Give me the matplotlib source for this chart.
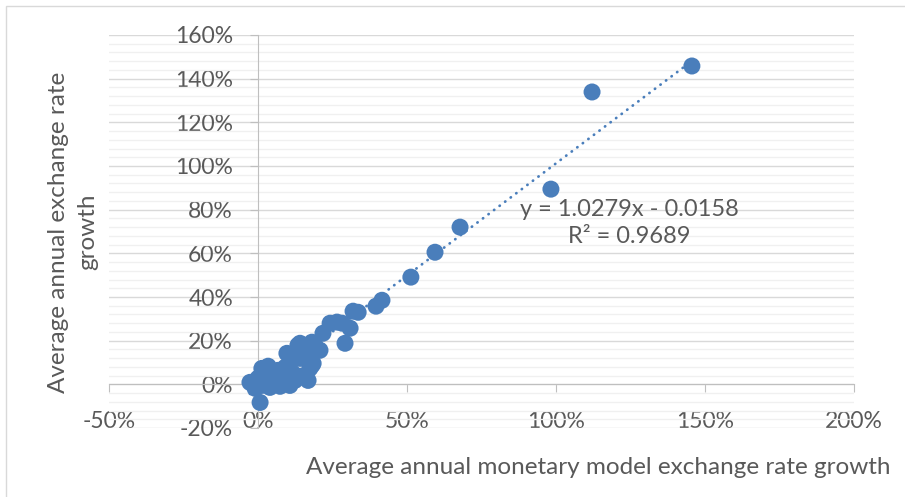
import numpy as np
import matplotlib
matplotlib.use("Agg")
from matplotlib import pyplot as plt
from matplotlib.patches import Rectangle
from matplotlib.ticker import MultipleLocator, PercentFormatter

# Average annual monetary model exchange rate growth (x) vs actual growth (y)
x_model = [1.456, 1.121, 0.983, 0.678, 0.594, 0.513, 0.416, 0.396, 0.336, 0.319,
           0.242, 0.282, 0.265, 0.218, 0.309, 0.292, 0.141, 0.181, 0.208, 0.097,
           0.185, 0.141, 0.174, 0.168, 0.107, -0.027, 0.007, 0.134, -0.010, 0.013,
           0.034, 0.023, 0.047, 0.067, 0.057, 0.081, 0.091, 0.107, 0.114, 0.040,
           0.074, 0.124, 0.141, 0.000, 0.013, 0.034, 0.121, 0.158, 0.191, 0.181]
y_actual = [1.458, 1.339, 0.894, 0.720, 0.605, 0.491, 0.385, 0.358, 0.330, 0.335,
            0.280, 0.280, 0.285, 0.234, 0.257, 0.188, 0.188, 0.193, 0.156, 0.142,
            0.096, 0.119, 0.073, 0.018, -0.005, 0.009, -0.083, 0.179, -0.018, -0.005,
            0.018, 0.055, 0.041, 0.064, 0.009, 0.032, 0.078, 0.101, 0.055, -0.014,
            -0.009, 0.018, 0.037, 0.028, 0.073, 0.083, 0.133, 0.147, 0.179, 0.087]

x_ticks = [-0.5, 0.0, 0.5, 1.0, 1.5, 2.0]
y_ticks = [-0.2, 0.0, 0.2, 0.4, 0.6, 0.8, 1.0, 1.2, 1.4, 1.6]

# trendline from the chart label
slope = 1.0279
intercept = -0.0158
r2 = 0.9689

blue = "#4a7ebb"
txt = "#595959"
plt.rcParams['font.family'] = ['Lato', 'DejaVu Sans']
plt.rcParams['axes.unicode_minus'] = False

fig = plt.figure(figsize=(9.05, 4.97), dpi=100)
ax = fig.add_axes([109/905, 69/497, 745/905, 393/497])
ax.set_xlim(-0.5, 2.0)
ax.set_ylim(-0.2, 1.6)

# gridlines
ax.set_yticks(y_ticks)
ax.yaxis.set_minor_locator(MultipleLocator(0.04))
ax.set_xticks(x_ticks)
ax.grid(True, axis='y', which='major', color='#d9d9d9', lw=1)
ax.grid(True, axis='y', which='minor', color='#f0f0f0', lw=1)
ax.set_axisbelow(True)

# axes crossing at zero
for s in ['top', 'right']:
    ax.spines[s].set_visible(False)
ax.spines['left'].set_position(('data', 0))
ax.spines['bottom'].set_position(('data', 0))
ax.spines['left'].set_color('#bfbfbf')
ax.spines['bottom'].set_color('#bfbfbf')
ax.yaxis.set_major_formatter(PercentFormatter(1.0, decimals=0))
ax.tick_params(axis='y', which='major', direction='out', length=6, color='#bfbfbf',
               labelsize=16.5, labelcolor=txt, pad=12)
ax.tick_params(axis='y', which='minor', length=0)
ax.tick_params(axis='x', direction='out', length=6, color='#bfbfbf', labelbottom=False)

# x labels sit low, near the bottom of the plot
sec = ax.secondary_xaxis(0.05)
sec.set_xticks(x_ticks)
sec.xaxis.set_major_formatter(PercentFormatter(1.0, decimals=0))
sec.spines['bottom'].set_visible(False)
sec.tick_params(length=0, labelsize=16.5, labelcolor=txt, pad=2)

ax.scatter(x_model, y_actual, s=150, color=blue, edgecolors='none', zorder=3)

xt = np.linspace(min(x_model), max(x_model), 2)
ax.plot(xt, slope*xt + intercept, color=blue, lw=2, linestyle=(0, (0.1, 2.4)),
        dash_capstyle='round', zorder=4)

fig.text(629/905, 1 - 223/497, "y = %.4fx - %.4f\nR² = %.4f" % (slope, -intercept, r2),
         ha='center', va='center', fontsize=17, color=txt, linespacing=1.35)

fig.text(73/905, 1 - 232/497, "Average annual exchange rate\ngrowth", rotation=90,
         ha='center', va='center', multialignment='center', fontsize=17.5, color=txt,
         linespacing=1.5)
fig.text(598/905, 1 - 468/497, "Average annual monetary model exchange rate growth",
         ha='center', va='center', fontsize=17.5, color=txt)

fig.patches.append(Rectangle((6/905, -0.1), 1.2, 1.1 - 6/497, transform=fig.transFigure,
                             fill=False, edgecolor='#d9d9d9', lw=1))

fig.savefig("out.png", dpi=100)
